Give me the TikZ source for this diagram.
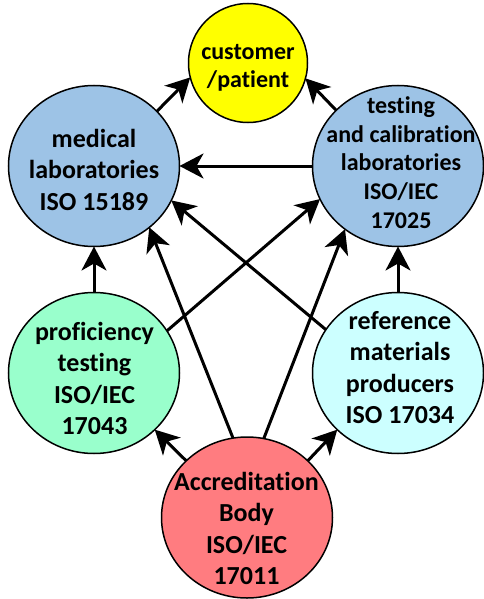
\documentclass[tikz,border=0pt]{standalone}
\usepackage{fontspec}
\setmainfont[RawFeature={-liga;-clig;-dlig;-calt}]{Carlito}
\usetikzlibrary{shapes.geometric,arrows.meta}
\definecolor{cyel}{HTML}{FFFF00}
\definecolor{cblue}{HTML}{9DC3E6}
\definecolor{cgreen}{HTML}{99FFCC}
\definecolor{ccyan}{HTML}{CCFFFF}
\definecolor{cred}{HTML}{FF7C80}
\begin{document}
\begin{tikzpicture}[x=1pt,y=-1pt]
\tikzset{
 blob/.style={ellipse, draw=black, line width=1.5pt, inner sep=0pt, outer sep=0pt, minimum width=171pt, minimum height=161pt},
 lbl/.style={align=center, inner sep=0pt, anchor=north, font=\bfseries\fontsize{26}{31.5}\selectfont},
 lblsmall/.style={align=center, inner sep=0pt, anchor=north, font=\bfseries\fontsize{24}{28.8}\selectfont},
 arr/.style={line width=3pt, -{Stealth[length=24pt,width=25pt,inset=7pt]}},
}
\useasboundingbox (0,0) rectangle (484,599);
% shapes
\node[blob, circle, minimum size=119pt, fill=cyel] (cust) at (248,63) {};
\node[blob, fill=cblue] (med) at (94,166) {};
\node[blob, fill=cblue] (test) at (398,166) {};
\node[blob, fill=cgreen] (prof) at (94,373) {};
\node[blob, fill=ccyan] (ref) at (398,373) {};
\node[blob, fill=cred] (acc) at (247,517.5) {};
% connectors
\draw[arr] (med.41) -- (cust.194.5);
\draw[arr] (test.138.5) -- (cust.345.5);
\draw[arr] (test.180) -- (med.0);
\draw[arr] (prof.90) -- (med.270);
\draw[arr] (ref.90) -- (test.270);
\draw[arr] (prof.30.7) -- (test.203.3);
\draw[arr] (ref.149) -- (med.336);
\draw[arr] (acc.100.7) -- (med.312.6);
\draw[arr] (acc.78.5) -- (test.230.7);
\draw[arr] (acc.137) -- (prof.317);
\draw[arr] (acc.43.5) -- (ref.223);
% texts
\node[lblsmall] (tcust) at (248,37) {\rule{0pt}{22pt}customer\\/patient};
\node[lbl] (tmed) at (94,125) {\rule{0pt}{22pt}medical\\laboratories\\ISO 15189};
\node[lblsmall] (ttest) at (401,91) {\rule{0pt}{22pt}testing\\and calibration\\laboratories\\ISO/IEC\\17025};
\node[lbl] (tprof) at (94.5,318) {\rule{0pt}{22pt}proficiency\\testing\\ISO/IEC\\17043};
\node[lbl] (tref) at (400,307) {\rule{0pt}{22pt}reference\\materials\\producers\\ISO 17034};
\node[lbl] (tacc) at (246.5,468) {\rule{0pt}{22pt}Accreditation\\Body\\ISO/IEC\\17011};
\end{tikzpicture}
\end{document}
